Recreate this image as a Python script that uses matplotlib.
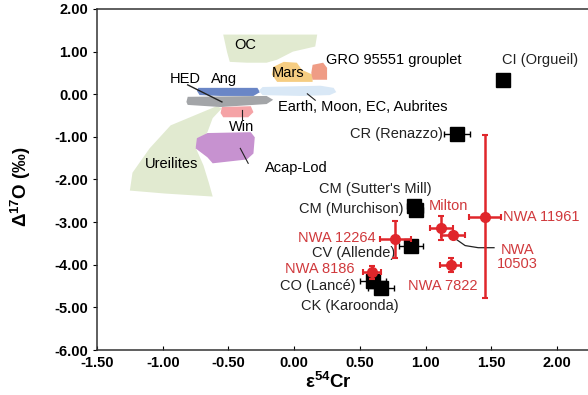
import matplotlib
matplotlib.use("Agg")
import matplotlib.pyplot as plt
from matplotlib.patches import Polygon

plt.rcParams["font.family"] = "Liberation Sans"
plt.rcParams["mathtext.fontset"] = "custom"
plt.rcParams["mathtext.rm"] = "Liberation Sans"
plt.rcParams["mathtext.bf"] = "Liberation Sans:bold"
plt.rcParams["mathtext.it"] = "Liberation Sans:italic"

# chondrite groups (black squares)
cc_names = ["CI (Orgueil)", "CR (Renazzo)", "CM (Sutter's Mill)", "CM (Murchison)",
            "CV (Allende)", "CO (Lancé)", "CK (Karoonda)"]
cc_x = [1.59, 1.24, 0.91, 0.93, 0.89, 0.60, 0.66]
cc_y = [0.34, -0.94, -2.62, -2.72, -3.57, -4.39, -4.54]
cc_xerr = [0.04, 0.10, 0.05, 0.05, 0.09, 0.10, 0.10]
cc_yerr = [0.05, 0.05, 0.05, 0.05, 0.05, 0.05, 0.05]

# ungrouped samples (red)
ug_names = ["NWA 11961", "Milton", "NWA 12264", "NWA\n10503", "NWA 7822", "NWA 8186"]
ug_x = [1.45, 1.12, 0.77, 1.21, 1.19, 0.59]
ug_y = [-2.87, -3.14, -3.40, -3.30, -4.01, -4.18]
ug_xerr = [0.12, 0.09, 0.12, 0.09, 0.08, 0.07]
ug_yerr = [1.92, 0.28, 0.43, 0.05, 0.17, 0.15]

# fields of other planetary bodies
ureilites = [(-0.59, -0.28), (-0.94, -0.73), (-1.10, -1.27), (-1.23, -1.84), (-1.25, -2.26),
             (-0.98, -2.33), (-0.62, -2.40), (-0.65, -2.07), (-0.69, -1.67), (-0.75, -1.25),
             (-0.66, -0.89), (-0.62, -0.56), (-0.55, -0.33)]
oc = [(-0.54, 1.40), (0.175, 1.40), (0.16, 1.12), (-0.01, 1.00), (-0.13, 0.81),
      (-0.21, 0.74), (-0.36, 0.74), (-0.49, 0.76), (-0.51, 0.98)]
ang = [(-0.73, 0.15), (-0.28, 0.15), (-0.26, 0.05), (-0.31, -0.04), (-0.56, -0.04),
       (-0.72, -0.02), (-0.74, 0.08)]
earth = [(-0.24, 0.17), (0.20, 0.20), (0.30, 0.15), (0.32, 0.05), (0.27, -0.02),
         (0.05, -0.04), (-0.24, -0.02), (-0.27, 0.08)]
hed = [(-0.81, -0.06), (-0.21, -0.04), (-0.16, -0.13), (-0.21, -0.23), (-0.56, -0.30),
       (-0.81, -0.25), (-0.82, -0.18)]
mars = [(-0.16, 0.64), (-0.08, 0.76), (0.02, 0.74), (0.06, 0.57), (0.14, 0.46),
        (0.14, 0.29), (-0.13, 0.29), (-0.17, 0.46)]
gro = [(0.14, 0.69), (0.22, 0.74), (0.25, 0.62), (0.25, 0.34), (0.14, 0.34), (0.13, 0.50)]
win = [(-0.55, -0.30), (-0.33, -0.28), (-0.31, -0.42), (-0.35, -0.54), (-0.54, -0.54),
       (-0.56, -0.44)]
acap = [(-0.74, -1.03), (-0.66, -0.91), (-0.33, -0.89), (-0.30, -1.01), (-0.31, -1.39),
        (-0.36, -1.53), (-0.62, -1.62), (-0.66, -1.48), (-0.75, -1.27)]

RED = "#e0262b"
TXT_RED = "#d0393c"

fig = plt.figure(figsize=(5.88, 3.95), dpi=100)
ax = fig.add_axes([97 / 588, 45 / 395, 493 / 588, 341 / 395])

fields = [
    (ureilites, "#e1ead0"),
    (oc, "#e1ead0"),
    (ang, "#6a86c6"),
    (earth, "#d9e8f6"),
    (hed, "#a3a5a8"),
    (mars, "#f6cd82"),
    (gro, "#ef9c85"),
    (win, "#f5a3a6"),
    (acap, "#c792d0"),
]
for verts, col in fields:
    ax.add_patch(Polygon(verts, closed=True, facecolor=col, edgecolor="none", zorder=1,
                         joinstyle="round"))

fs = 10.5
ax.text(-0.37, 1.16, "OC", fontsize=fs, ha="center", va="center")
ax.text(-0.05, 0.50, "Mars", fontsize=fs, ha="center", va="center")
ax.text(0.24, 0.81, "GRO 95551 grouplet", fontsize=fs, ha="left", va="center")
ax.text(-0.53, 0.36, "Ang", fontsize=fs, ha="center", va="center")
ax.text(-0.83, 0.36, "HED", fontsize=fs, ha="center", va="center")
ax.text(-0.12, -0.30, "Earth, Moon, EC, Aubrites", fontsize=fs, ha="left", va="center")
ax.text(-0.40, -0.78, "Win", fontsize=fs, ha="center", va="center")
ax.text(-0.93, -1.63, "Ureilites", fontsize=fs, ha="center", va="center")
ax.text(-0.22, -1.72, "Acap-Lod", fontsize=fs, ha="left", va="center")
ax.plot([-0.81, -0.55], [0.22, -0.18], color="#222222", lw=1.0, zorder=3)
ax.plot([0.10, 0.16], [0.01, -0.14], color="#222222", lw=0.8, zorder=3)
ax.plot([-0.40, -0.40], [-0.37, -0.61], color="#222222", lw=0.8, zorder=3)
ax.plot([-0.41, -0.35], [-1.27, -1.62], color="#222222", lw=0.8, zorder=3)

# chondrites
ax.errorbar(cc_x, cc_y, xerr=cc_xerr, yerr=cc_yerr, fmt="s", color="black",
            markersize=10, elinewidth=1.0, capsize=2.5, zorder=4)
cc_pos = [(1.87, 0.81, "center"), (1.13, -0.94, "right"), (0.62, -2.22, "center"),
          (0.83, -2.70, "right"), (0.45, -3.73, "center"), (0.47, -4.51, "right"),
          (0.42, -4.96, "center")]
for name, (tx, ty, ha) in zip(cc_names, cc_pos):
    ax.text(tx, ty, name, fontsize=fs, ha=ha, va="center", color="#222222")

# ungrouped
ax.errorbar(ug_x, ug_y, xerr=ug_xerr, yerr=ug_yerr, fmt="o", color=RED,
            markersize=7, elinewidth=1.8, capsize=2.5, capthick=1.5, zorder=5)
ug_pos = [(1.59, -2.87, "left"), (1.17, -2.62, "center"), (0.62, -3.38, "right"),
          (1.70, -3.82, "center"), (1.13, -4.49, "center"), (0.46, -4.11, "right")]
for name, (tx, ty, ha) in zip(ug_names, ug_pos):
    ax.text(tx, ty, name, fontsize=fs, ha=ha, va="center", color=TXT_RED,
            linespacing=1.0)
ax.plot([1.24, 1.30, 1.40, 1.52], [-3.42, -3.55, -3.60, -3.60], color="#222222",
        lw=0.9, zorder=3)

ax.set_xlim(-1.5, 2.25)
ax.set_ylim(-6, 2)
xt = [-1.5, -1.0, -0.5, 0.0, 0.5, 1.0, 1.5, 2.0]
yt = [-6, -5, -4, -3, -2, -1, 0, 1, 2]
ax.set_xticks(xt)
ax.set_yticks(yt)
ax.set_xticklabels([f"{v:.2f}" for v in xt], fontweight="bold", fontsize=10.5)
ax.set_yticklabels([f"{v:.2f}" for v in yt], fontweight="bold", fontsize=10.5)
ax.tick_params(axis="x", direction="in", length=3, pad=4)
ax.tick_params(axis="y", direction="out", length=3)
for s in ["left", "bottom", "top"]:
    ax.spines[s].set_color("#333333")
    ax.spines[s].set_linewidth(1.1)
ax.spines["right"].set_visible(False)

ax.set_xlabel(r"$\mathbf{\varepsilon^{54}Cr}$", fontsize=13.5)
ax.xaxis.set_label_coords(0.47, -0.065)
ax.set_ylabel(r"$\mathbf{\Delta^{17}O\ (‰)}$", fontsize=13.5)
ax.yaxis.set_label_coords(-0.13, 0.48)

fig.savefig("out.png", dpi=100)
